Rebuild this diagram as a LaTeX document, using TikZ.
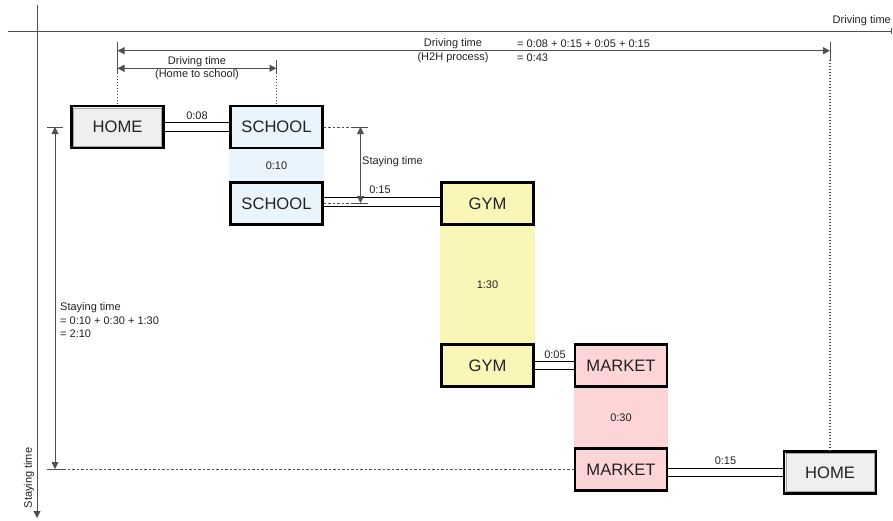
\documentclass[tikz,border=0pt]{standalone}
\usepackage{fontspec}
\setmainfont{Liberation Sans}
\usetikzlibrary{arrows.meta,calc}
\definecolor{homefill}{HTML}{EFEFEF}
\definecolor{schoolfill}{HTML}{EAF4FD}
\definecolor{gymfill}{HTML}{FAF6B8}
\definecolor{marketfill}{HTML}{FDD5D6}
\definecolor{ink}{HTML}{222222}
\definecolor{guide}{HTML}{505050}

\begin{document}
\begin{tikzpicture}[x=1pt,y=-1pt,
  place/.style={draw=black, line width=2.6pt, minimum width=92pt, minimum height=42pt,
    inner sep=0pt, text=ink, font=\fontsize{16.6}{18}\selectfont},
  homebox/.style={place, fill=homefill},
  schoolbox/.style={place, fill=schoolfill},
  gymbox/.style={place, fill=gymfill},
  marketbox/.style={place, fill=marketfill},
  small/.style={inner sep=0pt, text=ink, font=\fontsize{11}{13.5}\selectfont},
  road/.style={draw=black, double=white, double distance=7.2pt, line width=1.3pt},
  dim/.style={draw=guide, line width=0.9pt, {Triangle[length=7pt,width=7pt]}-{Triangle[length=7pt,width=7pt]}},
  tickline/.style={draw=guide, line width=0.9pt},
  axis/.style={draw=guide, line width=0.9pt},
  guideline/.style={draw=guide, line width=0.6pt, dash pattern=on 2.5pt off 2pt},
  dotline/.style={draw=guide, line width=1.1pt, dash pattern=on 1pt off 2pt},
]
\useasboundingbox (0,0) rectangle (893,520);

% axes
\coordinate (vtop) at (37,5);
\coordinate (vbot) at (37,518);
\coordinate (hleft) at (8,31);
\coordinate (hright) at (892,31);
\draw[axis, -{Triangle[length=7pt,width=7pt]}] (vtop) -- (vbot);
\draw[axis, -{Bar[width=6pt]}] (hleft) -- (hright);
\node[small, anchor=east] (hlabel) at (891,21) {Driving time};
\node[small, rotate=90] (vlabel) at (29,478) {Staying time};

% places
\node[homebox] (home1) at (117.5,127) {HOME};
\node[schoolbox] (school1) at (276.5,127) {SCHOOL};
\node[schoolbox] (school2) at (276.5,203.5) {SCHOOL};
\node[gymbox] (gym1) at (487.5,203.5) {GYM};
\node[gymbox] (gym2) at (487.5,365.5) {GYM};
\node[marketbox] (market1) at (621,365.5) {MARKET};
\node[marketbox] (market2) at (621,469.5) {MARKET};
\node[homebox] (home2) at (830,472.5) {HOME};

% inner rims of the home boxes
\foreach \h in {home1,home2}{
  \draw[draw=gray!70, line width=0.7pt]
    ([xshift=3.3pt,yshift=-3.3pt]\h.north west) rectangle ([xshift=-3.3pt,yshift=3.3pt]\h.south east);
}

% staying bands
\fill[schoolfill] (school1.south west) rectangle (school2.north east);
\fill[gymfill] (gym1.south west) rectangle (gym2.north east);
\fill[marketfill] (market1.south west) rectangle (market2.north east);
\node[small] (t010) at ($(school1.south)!0.5!(school2.north)$) {0:10};
\node[small] (t130) at ($(gym1.south)!0.5!(gym2.north)$) {1:30};
\node[small] (t030) at ($(market1.south)!0.5!(market2.north)$) {0:30};

% roads
\draw[road] (home1.east) -- (school1.west);
\draw[road] ([yshift=1.5pt]school2.east) -- ([yshift=1.5pt]gym1.west);
\draw[road] (gym2.east) -- (market1.west);
\draw[road] (market2.east |- home2.west) -- (home2.west);
\node[small] (d008) at (197,116) {0:08};
\node[small] (d015a) at (380,190) {0:15};
\node[small] (d005) at (555,355) {0:05};
\node[small] (d015b) at (725.5,461) {0:15};

% driving time, home to school
\coordinate (hsA) at (117.5,60);
\coordinate (hsA2) at (117.5,73);
\coordinate (hsB) at (276.5,60);
\coordinate (hsB2) at (276.5,73);
\draw[tickline] (hsA) -- (hsA2);
\draw[tickline] (hsB) -- (hsB2);
\draw[dotline] (hsA2) -- (home1.north);
\draw[dotline] (hsB2) -- (school1.north);
\draw[dim] ([yshift=4.7pt]hsA2) -- ([yshift=4.7pt]hsB2);
\node[small] (lhs1) at (197,61.5) {Driving time};
\node[small] (lhs2) at (197,74.5) {(Home to school)};

% driving time, whole process
\coordinate (hhA) at (117.5,42);
\coordinate (hhB) at (830,42);
\coordinate (hhB2) at (830,60);
\draw[tickline] (hhA) -- (hsA);
\draw[tickline] (hhB) -- (hhB2);
\draw[dotline] (hhB2) -- (home2.north);
\draw[dim] ([yshift=-8.7pt]hhA) -- ([yshift=-8.7pt]hhB);
\node[small] (lhh1) at (453,44) {Driving time};
\node[small] (lhh2) at (453,58) {(H2H process)};
\node[small, anchor=west] (lhh3) at (517,44) {= 0:08 + 0:15 + 0:05 + 0:15};
\node[small, anchor=west] (lhh4) at (517,58) {= 0:43};

% staying time at school
\coordinate (ssA1) at (353,127);
\coordinate (ssA2) at (368,127);
\coordinate (ssB1) at (353,203);
\coordinate (ssB2) at (368,203);
\draw[guideline] (school1.east |- ssA1) -- (ssA1);
\draw[guideline] (school2.east |- ssB1) -- (ssB2);
\draw[tickline] (ssA1) -- (ssA2);
\draw[tickline] (ssB1) -- (ssB2);
\draw[dim] ($(ssA1)!0.5!(ssA2)$) -- ($(ssB1)!0.5!(ssB2)$);
\node[small, anchor=west] (lss) at (362,162) {Staying time};

% staying time, whole process
\coordinate (stA1) at (47,127);
\coordinate (stA2) at (63,127);
\coordinate (stB1) at (47,469);
\coordinate (stB2) at (63,469);
\draw[tickline] (stA1) -- (stA2);
\draw[tickline] (stB1) -- (stB2);
\draw[guideline] (stB2) -- (market2.west |- stB2);
\draw[dim] ($(stA1)!0.5!(stA2)$) -- ($(stB1)!0.5!(stB2)$);
\node[small, anchor=north west, align=left] (lst) at (60,302.5)
  {Staying time\\= 0:10 + 0:30 + 1:30\\= 2:10};
\end{tikzpicture}
\end{document}
